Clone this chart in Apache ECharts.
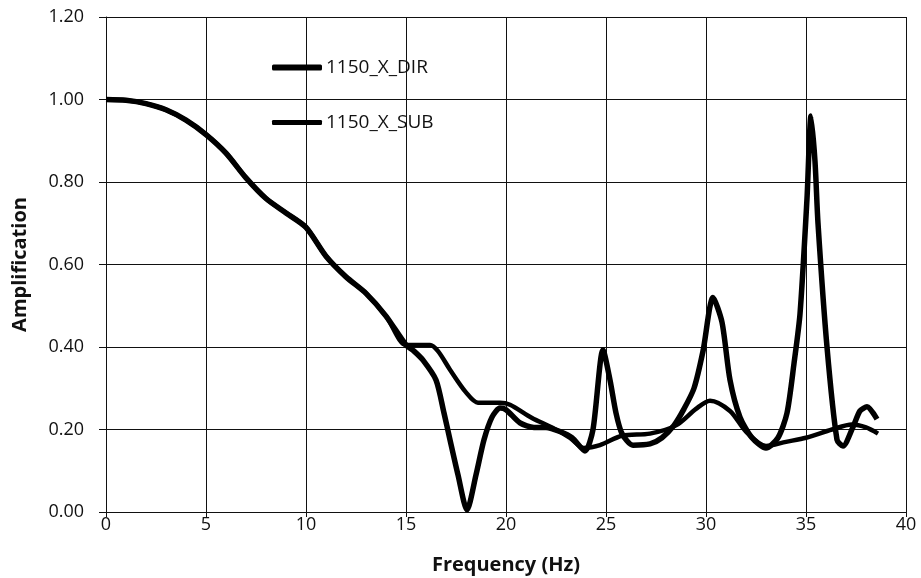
<!DOCTYPE html>
<html>
<head>
<meta charset="utf-8">
<script src="https://cdn.jsdelivr.net/npm/echarts@6/dist/echarts.min.js"></script>
<style>html,body{margin:0;padding:0;background:#fff}#c{width:921px;height:578px}</style>
</head>
<body>
<div id="c"></div>
<script>
// ---- data ----
var xTicks = [0, 5, 10, 15, 20, 25, 30, 35, 40];
var yTicks = [0.00, 0.20, 0.40, 0.60, 0.80, 1.00, 1.20];

var commonFreq = [0, 1, 2, 3, 4, 5, 6, 7, 8, 9, 10, 11, 12, 13, 14, 15];
var commonAmp  = [1.00, 0.998, 0.99, 0.975, 0.95, 0.915, 0.87, 0.81, 0.76, 0.725, 0.69, 0.62, 0.57, 0.53, 0.475, 0.405];

var dirFreq = [15.4, 15.85, 16.5, 16.9, 17.2, 17.6, 18.05, 18.5, 18.9, 19.3, 19.7, 20.0, 20.7, 21.4, 22.0, 22.7, 23.3, 23.95, 24.35, 24.85, 25.2, 25.5, 25.8, 26.35, 27.2, 27.8, 28.4, 28.9, 29.4, 29.85, 30.35, 30.8, 31.2, 31.7, 32.3, 33.0, 33.6, 34.05, 34.4, 34.7, 35.05, 35.25, 35.45, 35.6, 36.05, 36.55, 36.85, 37.35, 37.7, 38.05, 38.55];
var dirAmp  = [0.39, 0.368, 0.32, 0.24, 0.175, 0.09, 0.005, 0.09, 0.175, 0.23, 0.252, 0.248, 0.216, 0.205, 0.205, 0.195, 0.18, 0.148, 0.20, 0.393, 0.32, 0.24, 0.19, 0.162, 0.165, 0.18, 0.21, 0.25, 0.30, 0.39, 0.52, 0.46, 0.32, 0.23, 0.18, 0.155, 0.18, 0.24, 0.36, 0.48, 0.76, 0.96, 0.85, 0.70, 0.40, 0.175, 0.16, 0.206, 0.245, 0.255, 0.225];

var subFreq = [15.5, 16.2, 16.6, 17.2, 18.0, 18.6, 19.7, 20.2, 21.3, 22.3, 23.2, 23.9, 24.7, 25.8, 27.2, 28.5, 29.5, 30.2, 31.2, 32.0, 33.0, 34.0, 35.0, 36.3, 37.3, 38.0, 38.6];
var subAmp  = [0.405, 0.405, 0.39, 0.345, 0.29, 0.265, 0.265, 0.26, 0.228, 0.205, 0.18, 0.155, 0.162, 0.185, 0.19, 0.21, 0.25, 0.27, 0.245, 0.195, 0.16, 0.17, 0.18, 0.20, 0.212, 0.205, 0.19];

var seriesNames = ['1150_X_DIR', '1150_X_SUB'];

function pairs(fa, aa) {
  var out = [];
  for (var i = 0; i < fa.length; i++) out.push([fa[i], aa[i]]);
  return out;
}
var dirData = pairs(commonFreq.concat(dirFreq), commonAmp.concat(dirAmp));
var subData = pairs(commonFreq.concat(subFreq), commonAmp.concat(subAmp));

var FONT = '"Open Sans", "Liberation Sans", sans-serif';

var chart = echarts.init(document.getElementById('c'), null, {renderer: 'canvas'});
chart.setOption({
  animation: false,
  backgroundColor: '#fff',
  grid: {left: 106, right: 15, top: 17, bottom: 66, containLabel: false, outerBoundsMode: 'none'},
  legend: [
    {
      data: [{name: seriesNames[0], icon: 'roundRect'}],
      left: 272, top: 58, itemWidth: 50, itemHeight: 6, itemGap: 4, padding: 0,
      textStyle: {fontFamily: FONT, fontSize: 19, color: '#111', padding: [0, 0, 0, -1]}
    },
    {
      data: [{name: seriesNames[1], icon: 'roundRect'}],
      left: 272, top: 113, itemWidth: 50, itemHeight: 5, itemGap: 4, padding: 0,
      textStyle: {fontFamily: FONT, fontSize: 19, color: '#111', padding: [0, 0, 0, -1]}
    }
  ],
  xAxis: {
    type: 'value', min: 0, max: 40, interval: 5,
    name: 'Frequency (Hz)', nameLocation: 'middle', nameGap: 43,
    nameTextStyle: {fontFamily: FONT, fontSize: 20, fontWeight: 'bold', color: '#111'},
    axisLine: {show: true, lineStyle: {color: '#111', width: 1}},
    axisTick: {show: true, inside: false, length: 5, lineStyle: {color: '#111'}},
    axisLabel: {fontFamily: FONT, fontSize: 18, color: '#111', margin: 4,
      formatter: function (v) { return xTicks.indexOf(v) >= 0 ? String(v) : ''; }},
    splitLine: {show: true, lineStyle: {color: '#111', width: 1}}
  },
  yAxis: {
    type: 'value', min: 0, max: 1.2, interval: 0.2,
    name: 'Amplification', nameLocation: 'middle', nameGap: 76, nameRotate: 90,
    nameTextStyle: {fontFamily: FONT, fontSize: 20, fontWeight: 'bold', color: '#111'},
    axisLine: {show: true, lineStyle: {color: '#111', width: 1}},
    axisTick: {show: true, inside: false, length: 7, lineStyle: {color: '#111'}},
    axisLabel: {fontFamily: FONT, fontSize: 18, color: '#111', margin: 22,
      formatter: function (v) { return v.toFixed(2); }},
    splitLine: {show: true, lineStyle: {color: '#111', width: 1}}
  },
  series: [
    {
      name: seriesNames[0], type: 'line', data: dirData,
      symbol: 'none', smooth: 0.25,
      color: '#000', lineStyle: {color: '#000', width: 5.5, join: 'round'}, z: 3
    },
    {
      name: seriesNames[1], type: 'line', data: subData,
      symbol: 'none', smooth: 0.3,
      color: '#000', lineStyle: {color: '#000', width: 4.5, join: 'round'}, z: 2
    }
  ]
});
</script>
</body>
</html>
